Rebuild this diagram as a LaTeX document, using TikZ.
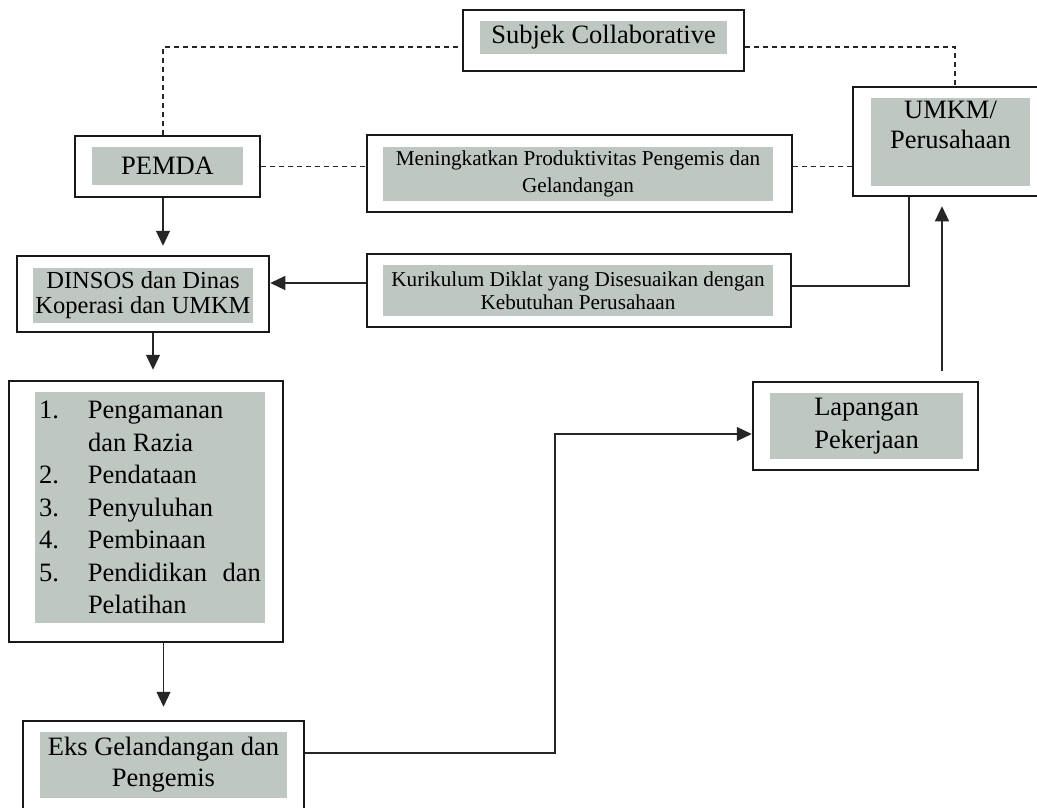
\documentclass[tikz,border=0pt]{standalone}
\usepackage{fontspec}
\setmainfont{Liberation Serif}
\usetikzlibrary{arrows.meta}
\definecolor{boxgray}{RGB}{191,199,195}

\begin{document}
\begin{tikzpicture}[x=1pt, y=-1pt,
        frame/.style={draw=black!90, line width=2.5pt, inner sep=0pt},
        shade/.style={fill=boxgray, inner sep=0pt, align=center,
            font=\fontsize{26.5}{31}\selectfont},
        small/.style={font=\fontsize{21.2}{27}\selectfont},
        link/.style={line width=1.1pt, draw=black!85},
        dashline/.style={link, dash pattern=on 5pt off 4pt},
        arr/.style={link, -{Triangle[length=15pt,width=14pt]}}]
        \path[use as bounding box, fill=white] (0,0) rectangle (1037,807);
        \clip (0,0) rectangle (1037,807);

        % frames
        \node[frame, minimum width=281pt, minimum height=61pt] (subjek) at (603.5,40.5) {};
        \node[frame, minimum width=185pt, minimum height=61pt] (pemda) at (167.5,166.5) {};
        \node[frame, minimum width=425pt, minimum height=77pt] (tujuan) at (579.5,173.5) {};
        \node[frame, minimum width=195pt, minimum height=109pt] (umkm) at (950.5,141.5) {};
        \node[frame, minimum width=252pt, minimum height=76pt] (dinsos) at (143,294) {};
        \node[frame, minimum width=424pt, minimum height=73pt] (kurikulum) at (579,290.5) {};
        \node[frame, minimum width=274pt, minimum height=261pt] (program) at (146,511.5) {};
        \node[frame, minimum width=281pt, minimum height=89pt] (eks) at (163.5,765.5) {};
        \node[frame, minimum width=225pt, minimum height=88pt] (lapangan) at (865.5,426) {};

        % shaded texts
        \node[shade, minimum width=247pt, minimum height=33pt] (subjektxt) at (603.5,37.5) {Subjek Collaborative};
        \node[shade, minimum width=151pt, minimum height=38pt] (pemdatxt) at (167.5,166) {PEMDA};
        \node[shade, small, minimum width=390pt, minimum height=54pt] (tujuantxt) at (578,174)
            {Meningkatkan Produktivitas Pengemis dan\\Gelandangan};
        \node[shade, minimum width=159pt, minimum height=88pt] (umkmbox) at (950.5,142) {};
        \node[shade, fill=none, anchor=north] (umkmtxt) at ([yshift=-3pt]umkmbox.north) {UMKM/\\[-1pt]Perusahaan};
        \node[shade, minimum width=220pt, minimum height=55pt, font=\fontsize{24.5}{25}\selectfont] (dinsostxt) at (143,295.5)
            {DINSOS dan Dinas\\Koperasi dan UMKM};
        \node[shade, small, minimum width=390pt, minimum height=51pt, font=\fontsize{21.2}{23.5}\selectfont] (kurikulumtxt) at (578,290.5)
            {Kurikulum Diklat yang Disesuaikan dengan\\Kebutuhan Perusahaan};
        \node[shade, align=left, minimum width=230pt, minimum height=231pt, font=\fontsize{26.5}{32.5}\selectfont] (programtxt) at (150,507.5)
            {\makebox[49pt][l]{1.}Pengamanan\\
             \hspace*{49pt}dan Razia\\
             \makebox[49pt][l]{2.}Pendataan\\
             \makebox[49pt][l]{3.}Penyuluhan\\
             \makebox[49pt][l]{4.}Pembinaan\\
             \makebox[49pt][l]{5.}\makebox[173pt][s]{Pendidikan dan}\\
             \hspace*{49pt}Pelatihan};
        \node[shade, minimum width=247pt, minimum height=66pt] (ekstxt) at (163.5,765) {Eks Gelandangan dan\\Pengemis};
        \node[shade, minimum width=193pt, minimum height=66pt, font=\fontsize{26.5}{33}\selectfont] (lapangantxt) at (866.5,426)
            {Lapangan\\Pekerjaan};

        \coordinate (elbow) at (555,434);

        % dashed links
        \draw[dashline] ([xshift=-4.5pt]pemda.north) |- ([yshift=-6.5pt]subjek.west);
        \draw[dashline] ([yshift=-6.5pt]subjek.east) -| ([xshift=4.5pt]umkm.north);
        \draw[dashline] (pemda.east) -- (pemda.east -| tujuan.west);
        \draw[dashline] (tujuan.east |- pemda.east) -- (umkm.west |- pemda.east);

        % flow
        \draw[arr, shorten >=9pt] ([xshift=-4.5pt]pemda.south) -- ([xshift=-4.5pt]pemda.south |- dinsos.north);
        \draw[arr, shorten >=10pt] ([xshift=10pt]dinsos.south) -- ([xshift=10pt]dinsos.south |- program.north);
        \draw[arr, shorten >=13pt] (program.south -| eks.north) -- (eks.north);
        \draw[arr, shorten <=10pt, shorten >=9pt] ([xshift=-8.5pt]umkm.south |- lapangan.north) -- ([xshift=-8.5pt]umkm.south);
        \draw[link] ([xshift=-41.5pt]umkm.south) |- ([yshift=4.5pt]kurikulum.east);
        \draw[arr] ([yshift=7.5pt]kurikulum.west) -- ([yshift=7.5pt]kurikulum.west -| dinsos.east);
        \draw[arr] ([yshift=12.5pt]eks.east) -| (elbow) -- ([yshift=-8pt]lapangan.west);
\end{tikzpicture}
\end{document}
